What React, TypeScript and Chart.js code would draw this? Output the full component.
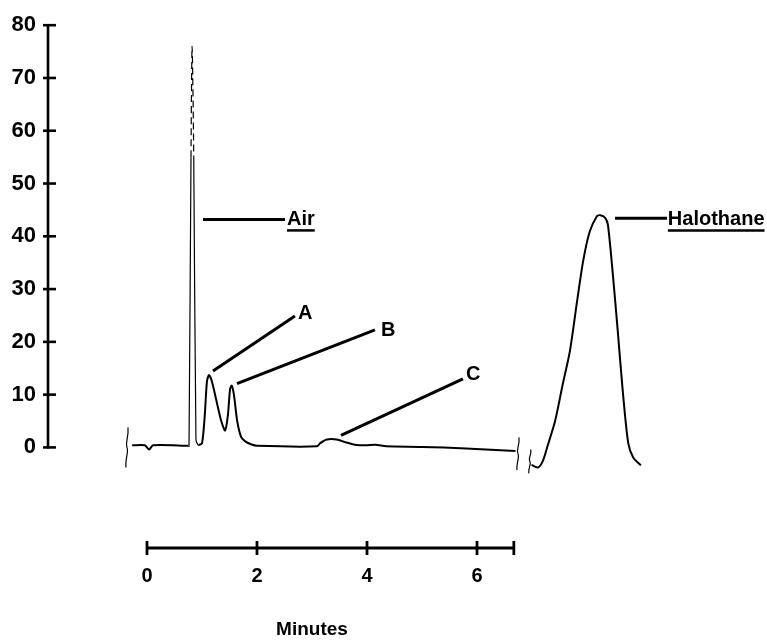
import React, { useEffect, useRef } from "react";
import { Chart, registerables } from "chart.js";

Chart.register(...registerables);

// ---- Data (time in minutes, detector signal) ----
const traceMinutes = [
  -0.27, -0.04, 0.04, 0.11, 0.75, 0.764, 0.8, 0.82, 0.85, 0.89, 0.93, 1.0, 1.05, 1.09, 1.127, 1.18,
  1.27, 1.35, 1.42, 1.47, 1.51, 1.54, 1.58, 1.64, 1.71, 1.78, 1.89, 2.0, 3.09, 3.15, 3.27, 3.45,
  3.6, 3.78, 3.98, 4.16, 4.35, 5.0, 5.8, 6.7, 6.85,
  6.99, 7.11, 7.2, 7.29, 7.42, 7.56, 7.69, 7.82, 7.93, 8.05, 8.18, 8.24, 8.33, 8.38, 8.47, 8.56,
  8.65, 8.75, 8.84, 8.98,
];
const traceSignal = [
  0.4, 0.4, -0.4, 0.4, 0.3, 0.3, 55, 76, 55, 1.5, 0.5, 0.8, 6, 12.5, 13.7, 12.5,
  8.5, 5, 3.2, 6, 11, 11.7, 10, 5, 2, 1.2, 0.6, 0.3, 0.2, 0.8, 1.5, 1.5,
  1.0, 0.5, 0.4, 0.5, 0.2, 0.1, -0.2, -0.7, null,
  -3.3, -3.8, -2.5, 0.5, 5, 12, 18.3, 27.7, 35.3, 40.9, 43.8, 44, 43.5, 42.2, 32.8, 22,
  10.7, 0.8, -1.9, -3.4,
];

const yTicks = [0, 10, 20, 30, 40, 50, 60, 70, 80];
const xTicks = [0, 2, 4, 6];
const xAxisEnd = 6.67;
const yMin = -19.06;
const yMax = 80;
const xMin = -1.8;
const xMax = 11.273;

// Peak annotations: leader line (x1,y1)->(x2,y2), text anchor
const peakNames = ["Air", "A", "B", "C", "Halothane"];
const leaderX1 = [1.018, 1.2, 1.636, 3.527, 8.51];
const leaderY1 = [43.2, 14.5, 12.08, 2.26, 43.4];
const leaderX2 = [2.509, 2.69, 4.145, 5.745, 9.455];
const leaderY2 = [43.2, 24.9, 22.26, 13.0, 43.4];
const nameX = [2.545, 2.745, 4.255, 5.8, 9.47];
const nameY = [43.2, 25.3, 22.1, 13.8, 43.2];
const nameUnderlined = [true, false, false, false, true];

// Axis break marks (minutes, top value, bottom value)
const breakX = [-0.364, 6.745, 6.96];
const breakTop = [3.8, 1.9, -0.4];
const breakBottom = [-3.8, -4.3, -4.9];

const axisTitle = "Minutes";
const axisTitleX = 3.0;

const FONT = "'Liberation Sans', Arial, sans-serif";

const decorPlugin = {
  id: "decor",
  afterDraw(chart: any) {
    const { ctx, chartArea } = chart;
    const xs = chart.scales.x;
    const ys = chart.scales.y;
    ctx.save();
    ctx.strokeStyle = "#000";
    ctx.fillStyle = "#000";
    ctx.lineCap = "butt";

    // Y axis line and cross ticks
    const ax = chartArea.left;
    ctx.lineWidth = 2.6;
    ctx.beginPath();
    ctx.moveTo(ax, ys.getPixelForValue(yMax) - 1);
    ctx.lineTo(ax, ys.getPixelForValue(0) + 1);
    ctx.stroke();
    yTicks.forEach((v) => {
      const py = ys.getPixelForValue(v);
      ctx.beginPath();
      ctx.moveTo(ax - 5, py);
      ctx.lineTo(ax + 8, py);
      ctx.stroke();
    });

    // X axis line with end caps and cross ticks
    const by = chartArea.bottom;
    const x0 = xs.getPixelForValue(0);
    const x1 = xs.getPixelForValue(xAxisEnd);
    ctx.lineWidth = 2.8;
    ctx.beginPath();
    ctx.moveTo(x0, by);
    ctx.lineTo(x1, by);
    ctx.stroke();
    [...xTicks, xAxisEnd].forEach((v) => {
      const px = xs.getPixelForValue(v);
      ctx.beginPath();
      ctx.moveTo(px, by - 7);
      ctx.lineTo(px, by + 7);
      ctx.stroke();
    });

    // Axis title
    ctx.font = `bold 19px ${FONT}`;
    ctx.textAlign = "center";
    ctx.textBaseline = "middle";
    ctx.fillText(axisTitle, xs.getPixelForValue(axisTitleX), by + 82);

    // Break marks
    ctx.lineWidth = 1.2;
    breakX.forEach((bx, i) => {
      const px = xs.getPixelForValue(bx);
      const t = ys.getPixelForValue(breakTop[i]);
      const b = ys.getPixelForValue(breakBottom[i]);
      const h = b - t;
      ctx.beginPath();
      ctx.moveTo(px + 1, t);
      ctx.bezierCurveTo(px + 2, t + h * 0.25, px - 2, t + h * 0.35, px, t + h * 0.5);
      ctx.bezierCurveTo(px + 2, t + h * 0.6, px - 2, t + h * 0.8, px - 1, b);
      ctx.stroke();
    });

    // Peak names
    ctx.font = `bold 20px ${FONT}`;
    ctx.textAlign = "left";
    ctx.textBaseline = "middle";
    peakNames.forEach((name, i) => {
      const px = xs.getPixelForValue(nameX[i]);
      const py = ys.getPixelForValue(nameY[i]);
      ctx.fillText(name, px, py);
      if (nameUnderlined[i]) {
        const w = ctx.measureText(name).width;
        ctx.lineWidth = 2.5;
        ctx.beginPath();
        ctx.moveTo(px, py + 11);
        ctx.lineTo(px + w, py + 11);
        ctx.stroke();
      }
    });
    ctx.restore();
  },
};

export default function App() {
  const ref = useRef<HTMLCanvasElement | null>(null);

  useEffect(() => {
    document.body.style.margin = "0";
    const canvas = ref.current;
    if (!canvas) return;

    const trace = traceMinutes.map((x, i) => ({ x, y: traceSignal[i] }));
    const leaders = peakNames.map((name, i) => ({
      label: name,
      data: [
        { x: leaderX1[i], y: leaderY1[i] },
        { x: leaderX2[i], y: leaderY2[i] },
      ],
      borderColor: "#000",
      borderWidth: 3,
      pointRadius: 0,
      fill: false,
    }));

    const isSpike = (x: number) => x >= 0.76 && x < 0.9;

    const chart = new Chart(canvas, {
      type: "line",
      data: {
        datasets: [
          {
            label: "Signal",
            data: trace as any,
            borderColor: "#000",
            borderWidth: 2,
            pointRadius: 0,
            tension: 0.25,
            spanGaps: false,
            fill: false,
            segment: {
              borderWidth: (c: any) => (isSpike(c.p0.parsed.x) ? 1.2 : 2),
              borderDash: (c: any) =>
                c.p0.parsed.y >= 55 && c.p1.parsed.y >= 55 ? [7, 4] : undefined,
            },
          } as any,
          ...(leaders as any),
        ],
      },
      options: {
        animation: false,
        responsive: false,
        maintainAspectRatio: false,
        layout: { padding: { top: 23, left: 0, right: 0, bottom: 0 } },
        plugins: { legend: { display: false }, tooltip: { enabled: false } },
        elements: { point: { radius: 0 } },
        scales: {
          x: {
            type: "linear",
            min: xMin,
            max: xMax,
            afterBuildTicks: (s: any) => {
              s.ticks = xTicks.map((v) => ({ value: v }));
            },
            afterFit: (s: any) => {
              s.height = 92;
            },
            grid: { display: false, drawTicks: false },
            border: { display: false },
            ticks: {
              color: "#000",
              padding: 16,
              autoSkip: false,
              maxRotation: 0,
              font: { family: FONT, size: 20, weight: "bold" },
            },
          },
          y: {
            type: "linear",
            min: yMin,
            max: yMax,
            afterBuildTicks: (s: any) => {
              s.ticks = yTicks.map((v) => ({ value: v }));
            },
            afterFit: (s: any) => {
              s.width = 48;
            },
            grid: { display: false, drawTicks: false },
            border: { display: false },
            ticks: {
              color: "#000",
              padding: 12,
              font: { family: FONT, size: 22, weight: "bold" },
            },
          },
        },
      } as any,
      plugins: [decorPlugin],
    });

    return () => chart.destroy();
  }, []);

  return (
    <div style={{ width: 767, height: 640 }}>
      <canvas ref={ref} width={767} height={640} style={{ display: "block" }} />
    </div>
  );
}
